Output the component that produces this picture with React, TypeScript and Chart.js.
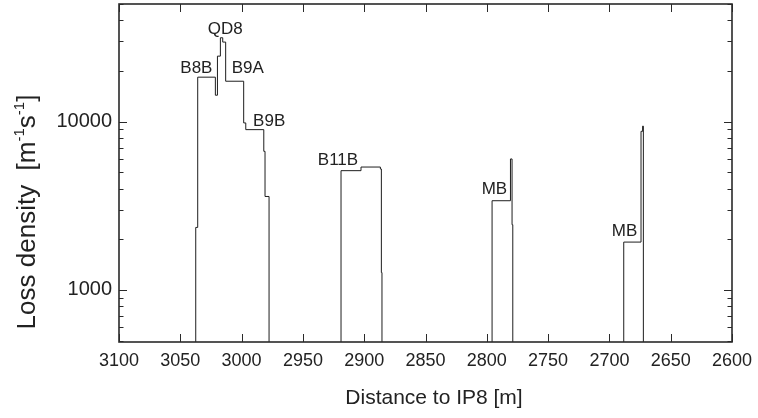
import React, { useEffect, useRef } from "react";
import { Chart, registerables } from "chart.js";

Chart.register(...registerables);

// Floor value used to drop the step trace below the visible axis range
const FLOOR = 100;

// Step trace: each point is an edge position (distance, m) and the loss density level that starts there
const edgeDistance = [
  3100,
  3037.4, 3035.8, 3021.4, 3019.7, 3017.3, 3015.4, 3013.0, 2998.3, 2996.6, 2981.9, 2980.9, 2977.6,
  2918.9, 2902.6, 2886.8, 2886.0, 2885.5,
  2795.7, 2780.7, 2779.4, 2778.8,
  2688.3, 2674.2, 2672.9, 2672.3,
  2600,
];
const lossDensity = [
  FLOOR,
  2350, 18370, 14350, 24500, 31500, 29700, 17380, 9820, 8960, 6660, 3590, FLOOR,
  5110, 5370, 5230, 1268, FLOOR,
  3387, 5998, 2438, FLOOR,
  1923, 8755, 9400, FLOOR,
  FLOOR,
];

// Axis ticks
const xTickValues = [3100, 3050, 3000, 2950, 2900, 2850, 2800, 2750, 2700, 2650, 2600];
const yTickValues = [1000, 10000];
const yMinorValues = [
  500, 600, 700, 800, 900,
  2000, 3000, 4000, 5000, 6000, 7000, 8000, 9000,
  20000, 30000, 40000, 50000,
];

// Element labels
const annotLabels = ["B8B", "QD8", "B9A", "B9B", "B11B", "MB", "MB"];
const annotDistance = [3036.9, 3013.4, 2995.0, 2977.5, 2921.4, 2793.8, 2687.7];
const annotDensity = [20680, 35500, 20680, 10070, 5860, 3937, 2228];

const FONT = "'Liberation Sans', Arial, Helvetica, sans-serif";
const INK = "#222222";

const framePlugin = {
  id: "frameTicks",
  afterDraw(chart: any) {
    const { ctx, chartArea } = chart;
    const xs = chart.scales.x;
    const ys = chart.scales.y;
    const { left, right, top, bottom } = chartArea;
    ctx.save();
    ctx.strokeStyle = "#2a2a2a";
    ctx.lineWidth = 1;
    ctx.beginPath();
    xTickValues.forEach((v) => {
      const px = Math.round(xs.getPixelForValue(v)) + 0.5;
      ctx.moveTo(px, bottom);
      ctx.lineTo(px, bottom - 8);
      ctx.moveTo(px, top);
      ctx.lineTo(px, top + 8);
    });
    yTickValues.forEach((v) => {
      const py = Math.round(ys.getPixelForValue(v)) + 0.5;
      ctx.moveTo(left, py);
      ctx.lineTo(left + 8, py);
      ctx.moveTo(right, py);
      ctx.lineTo(right - 8, py);
    });
    yMinorValues.forEach((v) => {
      const py = Math.round(ys.getPixelForValue(v)) + 0.5;
      ctx.moveTo(left, py);
      ctx.lineTo(left + 4.5, py);
      ctx.moveTo(right, py);
      ctx.lineTo(right - 4.5, py);
    });
    ctx.stroke();
    ctx.lineWidth = 1.6;
    ctx.strokeRect(left, top, right - left, bottom - top);

    ctx.fillStyle = INK;
    // x-axis title
    ctx.font = "21px " + FONT;
    ctx.textAlign = "center";
    ctx.textBaseline = "middle";
    ctx.fillText("Distance to IP8 [m]", 434, 398);

    // y-axis title with superscripts
    const cx = 28;
    const cy = 212;
    const main = "26px " + FONT;
    const sup = "15px " + FONT;
    const pieces: [string, boolean][] = [
      ["Loss density  [m", false],
      ["-1", true],
      ["s", false],
      ["-1", true],
      ["]", false],
    ];
    let total = 0;
    pieces.forEach(([t, s]) => {
      ctx.font = s ? sup : main;
      total += ctx.measureText(t).width;
    });
    ctx.translate(cx, cy);
    ctx.rotate(-Math.PI / 2);
    ctx.textBaseline = "middle";
    ctx.textAlign = "left";
    let x = -total / 2;
    pieces.forEach(([t, s]) => {
      ctx.font = s ? sup : main;
      ctx.fillText(t, x, s ? -8 : 0);
      x += ctx.measureText(t).width;
    });
    ctx.restore();
  },
};

const labelPlugin = {
  id: "elementLabels",
  afterDatasetsDraw(chart: any) {
    const { ctx } = chart;
    const xs = chart.scales.x;
    const ys = chart.scales.y;
    ctx.save();
    ctx.font = "17px " + FONT;
    ctx.fillStyle = INK;
    ctx.textAlign = "center";
    ctx.textBaseline = "middle";
    annotLabels.forEach((t, i) => {
      ctx.fillText(t, xs.getPixelForValue(annotDistance[i]), ys.getPixelForValue(annotDensity[i]));
    });
    ctx.restore();
  },
};

export default function App() {
  const ref = useRef<HTMLCanvasElement | null>(null);
  useEffect(() => {
    if (!ref.current) return;
    const data = edgeDistance.map((x, i) => ({ x, y: lossDensity[i] }));
    const chart = new Chart(ref.current, {
      type: "line",
      data: {
        datasets: [
          {
            data,
            stepped: "before",
            borderColor: "#1e1e1e",
            borderWidth: 1,
            pointRadius: 0,
            fill: false,
            tension: 0,
          },
        ],
      },
      options: {
        animation: false,
        responsive: false,
        events: [],
        layout: { padding: { top: 4, right: 26, left: 0, bottom: 0 } },
        plugins: { legend: { display: false }, tooltip: { enabled: false } },
        scales: {
          x: {
            type: "linear",
            min: 2600,
            max: 3100,
            reverse: true,
            grid: { display: false, drawTicks: false },
            border: { display: false },
            afterBuildTicks: (scale: any) => {
              scale.ticks = xTickValues.map((v) => ({ value: v }));
            },
            afterFit: (scale: any) => {
              scale.height = 76;
              scale.paddingLeft = 0;
              scale.paddingRight = 0;
            },
            ticks: {
              autoSkip: false,
              maxRotation: 0,
              padding: 8,
              color: INK,
              font: { family: FONT, size: 18 },
              callback: (v: any) => String(v),
            },
          },
          y: {
            type: "logarithmic",
            min: 490,
            max: 50000,
            grid: { display: false, drawTicks: false },
            border: { display: false },
            afterBuildTicks: (scale: any) => {
              scale.ticks = yTickValues.map((v) => ({ value: v, major: false }));
            },
            afterFit: (scale: any) => {
              scale.width = 119;
              scale.paddingTop = 0;
              scale.paddingBottom = 0;
            },
            ticks: {
              padding: 7,
              color: INK,
              font: { family: FONT, size: 20 },
              callback: (v: any) => String(v),
            },
          },
        },
      },
      plugins: [framePlugin, labelPlugin],
    });
    return () => chart.destroy();
  }, []);
  return (
    <div style={{ position: "absolute", left: 0, top: 0, width: 758, height: 418, background: "#fff" }}>
      <canvas ref={ref} width={758} height={418} style={{ display: "block" }} />
    </div>
  );
}
